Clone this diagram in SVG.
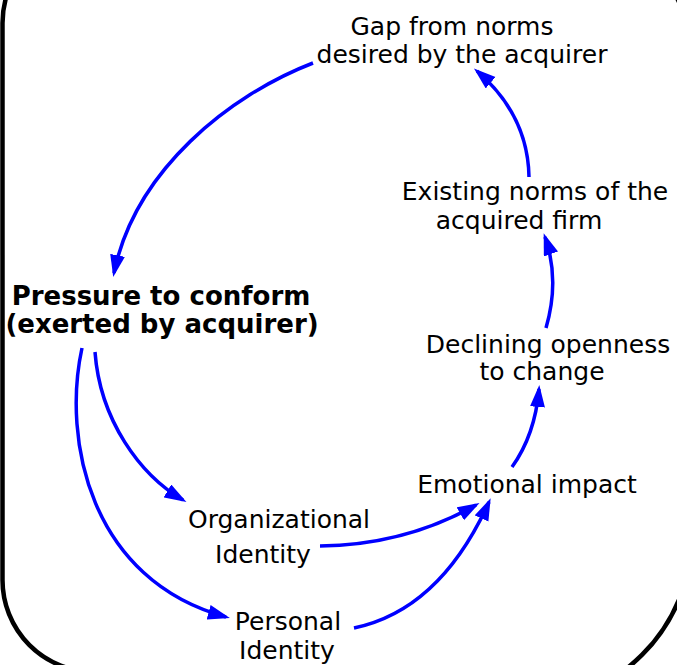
<svg xmlns="http://www.w3.org/2000/svg" width="677" height="665" viewBox="0 0 677 665">
<style>
  .lbl { font-family: "DejaVu Sans", "Liberation Sans", sans-serif; font-size: 25px; fill: #000; text-anchor: middle; }
  .bold { font-weight: bold; font-size: 26px; }
  .link { fill: none; stroke: #0000ff; stroke-width: 3.5; marker-end: url(#arrow); }
</style>
<defs>
  <marker id="arrow" markerUnits="userSpaceOnUse" markerWidth="24" markerHeight="16" refX="18" refY="7.5" orient="auto">
    <path d="M0,0 L22,7.5 L0,15 z" fill="#0000ff"/>
  </marker>
</defs>
<rect x="0" y="0" width="677" height="665" fill="#fff"/>
<path id="frame" d="M2.5,23 A92,92 0 0 1 94.5,-69 L552,-79 A140,140 0 0 1 692,61 L692,534.5 A170,170 0 0 1 522,704.5 L94.5,672 A92,92 0 0 1 2.5,580 Z" fill="none" stroke="#000" stroke-width="4.5"/>
<g id="connectors">
  <path class="link" d="M313,63 C230,95 135,170 114,273"/>
  <path class="link" d="M529,177 Q528,115 477,71"/>
  <path class="link" d="M546,328 Q560,280 545,237"/>
  <path class="link" d="M512,467 Q535,435 539,389"/>
  <path class="link" d="M95,352 C100,420 140,475 183,500"/>
  <path class="link" d="M82,348 C62,440 90,580 226,617"/>
  <path class="link" d="M320,546 Q405,545 476,505"/>
  <path class="link" d="M354,628 Q440,610 489,502"/>
</g>
<g id="gap">
  <text class="lbl" x="452" y="35">Gap from norms</text>
  <text class="lbl" x="462" y="63">desired by the acquirer</text>
</g>
<g id="existing">
  <text class="lbl" x="535" y="200">Existing norms of the</text>
  <text class="lbl" x="519" y="229">acquired firm</text>
</g>
<g id="pressure">
  <text class="lbl bold" x="161" y="305">Pressure to conform</text>
  <text class="lbl bold" x="162" y="333">(exerted by acquirer)</text>
</g>
<g id="declining">
  <text class="lbl" x="548" y="353">Declining openness</text>
  <text class="lbl" x="542" y="380">to change</text>
</g>
<g id="emotional">
  <text class="lbl" x="527" y="493">Emotional impact</text>
</g>
<g id="organizational">
  <text class="lbl" x="279" y="528">Organizational</text>
  <text class="lbl" x="263" y="563">Identity</text>
</g>
<g id="personal">
  <text class="lbl" x="288" y="630">Personal</text>
  <text class="lbl" x="287" y="659">Identity</text>
</g>
</svg>
